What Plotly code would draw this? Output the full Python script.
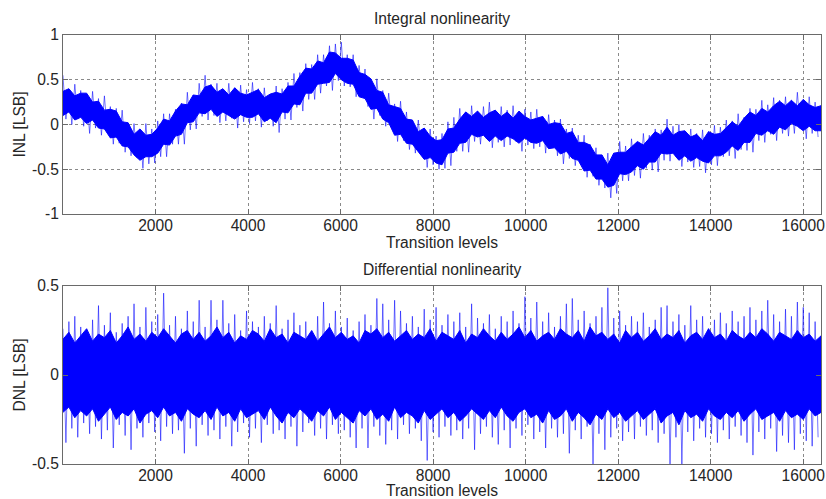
import plotly.graph_objects as go

# ---------------- data ----------------
X_MIN, X_MAX = 1, 16383
x_tick_values = [2000, 4000, 6000, 8000, 10000, 12000, 14000, 16000]
x_tick_labels = ["2000", "4000", "6000", "8000", "10000", "12000", "14000", "16000"]
inl_tick_values = [-1, -0.5, 0, 0.5, 1]
inl_tick_labels = ["-1", "-0.5", "0", "0.5", "1"]
dnl_tick_values = [-0.5, 0, 0.5]
dnl_tick_labels = ["-0.5", "0", "0.5"]

# all series are sampled every 128 transition levels
core_levels = list(range(0, 16385, 128))      # 129 samples
peak_levels = list(range(0, 16384, 128))      # 128 samples

# INL: edges of the dense core of the noisy trace
inl_core_hi = [0.37, 0.40, 0.32, 0.35, 0.35, 0.25, 0.26, 0.16, 0.17, 0.15,
               0.03, 0.02, -0.11, -0.05, -0.12, -0.11, -0.04, 0.06, 0.04, 0.15,
               0.23, 0.22, 0.33, 0.32, 0.42, 0.44, 0.36, 0.40, 0.33, 0.41,
               0.35, 0.33, 0.36, 0.39, 0.30, 0.34, 0.36, 0.34, 0.43, 0.43,
               0.54, 0.63, 0.62, 0.71, 0.69, 0.81, 0.80, 0.74, 0.74, 0.72,
               0.58, 0.56, 0.51, 0.38, 0.36, 0.22, 0.20, 0.18, 0.06, 0.05,
               -0.08, -0.04, -0.13, -0.18, -0.17, -0.05, -0.04, 0.06, 0.14, 0.09,
               0.15, 0.08, 0.13, 0.16, 0.09, 0.14, 0.07, 0.15, 0.09, 0.05,
               0.07, 0.09, 0.00, 0.02, 0.01, -0.10, -0.08, -0.20, -0.20, -0.23,
               -0.34, -0.34, -0.45, -0.32, -0.31, -0.31, -0.25, -0.19, -0.23, -0.15,
               -0.08, -0.12, -0.03, -0.12, -0.08, -0.07, -0.14, -0.11, -0.18, -0.08,
               -0.11, -0.10, -0.03, 0.03, -0.02, 0.07, 0.14, 0.10, 0.18, 0.14,
               0.21, 0.26, 0.21, 0.27, 0.21, 0.28, 0.22, 0.19, 0.21]
inl_core_lo = [0.10, 0.14, 0.05, 0.08, 0.01, 0.05, -0.04, -0.05, -0.15, -0.14,
               -0.24, -0.25, -0.34, -0.40, -0.36, -0.36, -0.32, -0.22, -0.23, -0.13,
               -0.11, 0.02, 0.03, 0.13, 0.12, 0.17, 0.09, 0.14, 0.10, 0.06,
               0.11, 0.08, 0.08, 0.12, 0.03, 0.07, 0.02, 0.14, 0.13, 0.23,
               0.22, 0.35, 0.35, 0.45, 0.46, 0.47, 0.57, 0.50, 0.46, 0.45,
               0.31, 0.29, 0.17, 0.18, 0.06, 0.02, -0.12, -0.11, -0.21, -0.22,
               -0.31, -0.39, -0.37, -0.43, -0.45, -0.32, -0.31, -0.21, -0.20, -0.11,
               -0.14, -0.12, -0.19, -0.13, -0.18, -0.13, -0.16, -0.21, -0.15, -0.20,
               -0.21, -0.18, -0.27, -0.26, -0.33, -0.30, -0.38, -0.40, -0.52, -0.51,
               -0.61, -0.61, -0.70, -0.68, -0.55, -0.56, -0.53, -0.46, -0.50, -0.42,
               -0.42, -0.32, -0.33, -0.32, -0.40, -0.35, -0.41, -0.37, -0.41, -0.43,
               -0.35, -0.35, -0.31, -0.24, -0.29, -0.20, -0.20, -0.10, -0.12, -0.07,
               -0.11, -0.03, -0.06, 0.01, -0.02, -0.07, -0.02, -0.07, -0.07]

# INL: noise peaks above / below the core
inl_peak_hi = [0.55, 0.39, 0.45, 0.38, 0.32, 0.37, 0.29, 0.32, 0.20, 0.18,
               0.16, 0.01, 0.01, -0.05, 0.01, -0.05, 0.04, 0.12, 0.12, 0.17,
               0.24, 0.36, 0.33, 0.46, 0.55, 0.45, 0.46, 0.39, 0.46, 0.41,
               0.44, 0.39, 0.47, 0.40, 0.41, 0.34, 0.43, 0.40, 0.47, 0.57,
               0.58, 0.68, 0.67, 0.78, 0.78, 0.88, 0.90, 0.92, 0.78, 0.78,
               0.66, 0.62, 0.49, 0.51, 0.38, 0.35, 0.23, 0.26, 0.14, 0.05,
               0.05, -0.04, -0.05, -0.13, -0.10, 0.03, 0.08, 0.18, 0.14, 0.21,
               0.15, 0.20, 0.25, 0.16, 0.20, 0.16, 0.21, 0.13, 0.17, 0.14,
               0.17, 0.09, 0.11, 0.05, 0.06, -0.05, -0.04, -0.12, -0.12, -0.22,
               -0.26, -0.34, -0.32, -0.32, -0.19, -0.24, -0.16, -0.20, -0.10, -0.12,
               -0.05, -0.06, 0.06, -0.02, 0.00, -0.08, -0.05, -0.10, -0.06, -0.08,
               -0.01, -0.03, 0.05, 0.04, 0.12, 0.08, 0.18, 0.17, 0.27, 0.22,
               0.30, 0.27, 0.31, 0.27, 0.36, 0.28, 0.31, 0.25]
inl_peak_lo = [0.06, 0.00, 0.06, -0.02, -0.10, -0.04, -0.12, -0.09, -0.22, -0.21,
               -0.31, -0.35, -0.37, -0.49, -0.44, -0.43, -0.36, -0.36, -0.22, -0.22,
               -0.22, -0.06, -0.05, 0.09, 0.05, 0.10, 0.02, 0.04, 0.07, -0.04,
               0.03, 0.01, 0.04, -0.03, 0.04, -0.02, -0.09, 0.06, 0.05, 0.19,
               0.15, 0.28, 0.28, 0.35, 0.43, 0.38, 0.49, 0.43, 0.42, 0.31,
               0.32, 0.20, 0.06, 0.10, -0.02, -0.02, -0.19, -0.18, -0.28, -0.32,
               -0.34, -0.48, -0.45, -0.50, -0.49, -0.46, -0.30, -0.30, -0.31, -0.19,
               -0.22, -0.16, -0.26, -0.20, -0.25, -0.23, -0.19, -0.30, -0.23, -0.27,
               -0.25, -0.32, -0.26, -0.35, -0.44, -0.38, -0.46, -0.44, -0.59, -0.58,
               -0.68, -0.71, -0.82, -0.77, -0.63, -0.63, -0.57, -0.60, -0.49, -0.51,
               -0.53, -0.40, -0.41, -0.36, -0.47, -0.42, -0.48, -0.47, -0.54, -0.45,
               -0.46, -0.36, -0.35, -0.38, -0.28, -0.29, -0.31, -0.18, -0.20, -0.11,
               -0.18, -0.10, -0.13, -0.10, -0.05, -0.16, -0.10, -0.14]

# DNL: edges of the dense core
dnl_core_hi = [0.20, 0.24, 0.18, 0.22, 0.26, 0.19, 0.23, 0.21, 0.25, 0.18,
               0.22, 0.27, 0.20, 0.23, 0.19, 0.24, 0.21, 0.26, 0.22, 0.18,
               0.23, 0.25, 0.20, 0.24, 0.19, 0.22, 0.27, 0.21, 0.24, 0.18,
               0.22, 0.20, 0.25, 0.23, 0.19, 0.26, 0.21, 0.23, 0.18, 0.24,
               0.22, 0.20, 0.25, 0.19, 0.23, 0.27, 0.21, 0.24, 0.20, 0.22,
               0.18, 0.25, 0.23, 0.26, 0.21, 0.24, 0.19, 0.22, 0.25, 0.20,
               0.23, 0.21, 0.26, 0.19, 0.24, 0.22, 0.20, 0.25, 0.18, 0.23,
               0.21, 0.26, 0.22, 0.19, 0.24, 0.20, 0.23, 0.27, 0.21, 0.25,
               0.19, 0.22, 0.24, 0.20, 0.26, 0.23, 0.21, 0.25, 0.19, 0.27,
               0.22, 0.24, 0.20, 0.23, 0.18, 0.25, 0.21, 0.24, 0.19, 0.22,
               0.26, 0.20, 0.23, 0.21, 0.25, 0.18, 0.22, 0.24, 0.20, 0.26,
               0.21, 0.23, 0.19, 0.25, 0.22, 0.20, 0.24, 0.21, 0.26, 0.23,
               0.19, 0.24, 0.22, 0.20, 0.25, 0.21, 0.23, 0.19, 0.22]
dnl_core_lo = [-0.21, -0.18, -0.24, -0.20, -0.23, -0.19, -0.26, -0.22, -0.18, -0.25,
               -0.21, -0.23, -0.19, -0.27, -0.22, -0.20, -0.24, -0.18, -0.23, -0.21,
               -0.26, -0.19, -0.22, -0.24, -0.20, -0.25, -0.18, -0.23, -0.21, -0.26,
               -0.19, -0.24, -0.22, -0.20, -0.25, -0.18, -0.23, -0.27, -0.21, -0.24,
               -0.19, -0.22, -0.26, -0.20, -0.23, -0.18, -0.25, -0.21, -0.24, -0.27,
               -0.20, -0.23, -0.19, -0.25, -0.22, -0.26, -0.18, -0.24, -0.21, -0.23,
               -0.27, -0.20, -0.25, -0.22, -0.19, -0.24, -0.21, -0.26, -0.23, -0.19,
               -0.22, -0.25, -0.20, -0.24, -0.18, -0.23, -0.26, -0.21, -0.19, -0.24,
               -0.22, -0.27, -0.20, -0.25, -0.23, -0.19, -0.26, -0.21, -0.24, -0.28,
               -0.22, -0.25, -0.19, -0.24, -0.21, -0.26, -0.23, -0.20, -0.25, -0.22,
               -0.19, -0.27, -0.23, -0.21, -0.28, -0.20, -0.24, -0.22, -0.26, -0.19,
               -0.23, -0.25, -0.21, -0.24, -0.20, -0.26, -0.22, -0.19, -0.25, -0.23,
               -0.21, -0.26, -0.20, -0.24, -0.22, -0.25, -0.19, -0.23, -0.21]

# DNL: noise peaks above / below the core
dnl_peak_hi = [0.26, 0.30, 0.33, 0.27, 0.23, 0.31, 0.39, 0.28, 0.35, 0.24,
               0.29, 0.33, 0.40, 0.27, 0.38, 0.30, 0.34, 0.46, 0.28, 0.33,
               0.26, 0.36, 0.30, 0.42, 0.27, 0.42, 0.31, 0.42, 0.29, 0.34,
               0.25, 0.36, 0.30, 0.27, 0.33, 0.29, 0.39, 0.26, 0.31, 0.35,
               0.28, 0.30, 0.24, 0.33, 0.41, 0.29, 0.36, 0.27, 0.32, 0.25,
               0.30, 0.34, 0.28, 0.43, 0.40, 0.31, 0.42, 0.36, 0.29, 0.33,
               0.27, 0.37, 0.31, 0.38, 0.28, 0.34, 0.30, 0.35, 0.27, 0.40,
               0.32, 0.29, 0.34, 0.26, 0.33, 0.30, 0.36, 0.29, 0.44, 0.32,
               0.41, 0.30, 0.35, 0.27, 0.33, 0.40, 0.43, 0.31, 0.36, 0.29,
               0.33, 0.38, 0.49, 0.32, 0.36, 0.28, 0.33, 0.30, 0.35, 0.27,
               0.31, 0.38, 0.39, 0.30, 0.34, 0.28, 0.39, 0.31, 0.33, 0.26,
               0.31, 0.35, 0.29, 0.36, 0.30, 0.33, 0.38, 0.31, 0.36, 0.42,
               0.34, 0.30, 0.37, 0.33, 0.41, 0.38, 0.35, 0.30]
dnl_peak_lo = [-0.38, -0.30, -0.35, -0.27, -0.33, -0.29, -0.36, -0.31, -0.41, -0.28,
               -0.34, -0.42, -0.30, -0.35, -0.27, -0.32, -0.37, -0.29, -0.33, -0.31,
               -0.44, -0.30, -0.40, -0.28, -0.34, -0.31, -0.36, -0.29, -0.40, -0.32,
               -0.27, -0.35, -0.30, -0.38, -0.28, -0.33, -0.31, -0.36, -0.29, -0.40,
               -0.32, -0.27, -0.34, -0.30, -0.36, -0.28, -0.33, -0.31, -0.35, -0.41,
               -0.30, -0.41, -0.29, -0.34, -0.39, -0.31, -0.36, -0.28, -0.33, -0.30,
               -0.37, -0.48, -0.32, -0.35, -0.29, -0.34, -0.31, -0.36, -0.30, -0.42,
               -0.33, -0.29, -0.35, -0.39, -0.31, -0.41, -0.30, -0.34, -0.28, -0.36,
               -0.32, -0.41, -0.30, -0.35, -0.33, -0.44, -0.31, -0.36, -0.29, -0.50,
               -0.33, -0.42, -0.35, -0.30, -0.37, -0.32, -0.36, -0.29, -0.34, -0.31,
               -0.38, -0.33, -0.50, -0.35, -0.50, -0.32, -0.37, -0.30, -0.35, -0.33,
               -0.38, -0.31, -0.36, -0.29, -0.34, -0.38, -0.45, -0.32, -0.36, -0.30,
               -0.43, -0.34, -0.38, -0.42, -0.33, -0.37, -0.40, -0.35]

# ---------------- helpers ----------------
def band(levels, hi, lo):
    return levels + levels[::-1], hi + lo[::-1]


def zigzag(levels, hi, lo):
    half = (levels[1] - levels[0]) / 2
    xs, ys = [], []
    for lv, h, l in zip(levels, hi, lo):
        xs += [lv, lv + half]
        ys += [h, l]
    return xs, ys


BLUE = "#0000ff"
PEAK = "rgba(0,0,255,0.55)"
TEXT = "#262626"
FONT = "Liberation Sans, Arial, sans-serif"
FS = 15.6

fig = go.Figure()

for (xa, ya, ch, clo, ph, plo) in [
    ("x", "y", inl_core_hi, inl_core_lo, inl_peak_hi, inl_peak_lo),
    ("x2", "y2", dnl_core_hi, dnl_core_lo, dnl_peak_hi, dnl_peak_lo),
]:
    zx, zy = zigzag(peak_levels, ph, plo)
    fig.add_trace(go.Scatter(x=zx, y=zy, mode="lines", xaxis=xa, yaxis=ya,
                             line=dict(color=PEAK, width=1), hoverinfo="skip",
                             showlegend=False))
    bx, by = band(core_levels, ch, clo)
    fig.add_trace(go.Scatter(x=bx, y=by, mode="lines", fill="toself", xaxis=xa, yaxis=ya,
                             fillcolor=BLUE, line=dict(color=BLUE, width=1),
                             hoverinfo="skip", showlegend=False))

axis_common = dict(
    showline=True, mirror="allticks", linecolor="#6a6a6a", linewidth=1,
    ticks="inside", ticklen=5, tickcolor="#6a6a6a",
    showgrid=True, gridcolor="#8a8a8a", griddash="dot", gridwidth=1,
    zeroline=False, automargin=False,
    tickfont=dict(size=FS, color=TEXT, family=FONT),
    title_font=dict(size=FS, color=TEXT, family=FONT),
)

TOP_DOMAIN = [0.5828, 1.0]
BOT_DOMAIN = [0.0, 0.4149]

fig.update_layout(
    width=826, height=499,
    template="none",
    paper_bgcolor="white", plot_bgcolor="white",
    margin=dict(l=63, r=5, t=35, b=35),
    font=dict(family=FONT, size=FS, color=TEXT),
    showlegend=False,
    hovermode=False,
    xaxis=dict(axis_common, domain=[0, 1], anchor="y", range=[X_MIN, X_MAX],
               tickvals=x_tick_values, ticktext=x_tick_labels, ticklabelstandoff=-3,
               title=dict(text="Transition levels", standoff=0)),
    yaxis=dict(axis_common, domain=TOP_DOMAIN, anchor="x", range=[-1, 1],
               tickvals=inl_tick_values, ticktext=inl_tick_labels,
               title=dict(text="INL [LSB]", standoff=2)),
    xaxis2=dict(axis_common, domain=[0, 1], anchor="y2", range=[X_MIN, X_MAX],
                tickvals=x_tick_values, ticktext=x_tick_labels, ticklabelstandoff=-3,
                title=dict(text="Transition levels", standoff=0)),
    yaxis2=dict(axis_common, domain=BOT_DOMAIN, anchor="x2", range=[-0.5, 0.5],
                tickvals=dnl_tick_values, ticktext=dnl_tick_labels,
                title=dict(text="DNL [LSB]", standoff=2)),
    annotations=[
        dict(text="Integral nonlinearity", x=0.5, xref="paper", y=TOP_DOMAIN[1], yref="paper",
             xanchor="center", yanchor="bottom", yshift=6, showarrow=False,
             font=dict(size=FS, color=TEXT, family=FONT)),
        dict(text="Differential nonlinearity", x=0.5, xref="paper", y=BOT_DOMAIN[1], yref="paper",
             xanchor="center", yanchor="bottom", yshift=6, showarrow=False,
             font=dict(size=FS, color=TEXT, family=FONT)),
    ],
)

# remove the default page margin so the 826x499 figure fills the window exactly
fig.write_html("out.html",
               config={"displayModeBar": False, "staticPlot": True},
               post_script="document.body.style.margin='0';document.body.style.overflow='hidden';")
